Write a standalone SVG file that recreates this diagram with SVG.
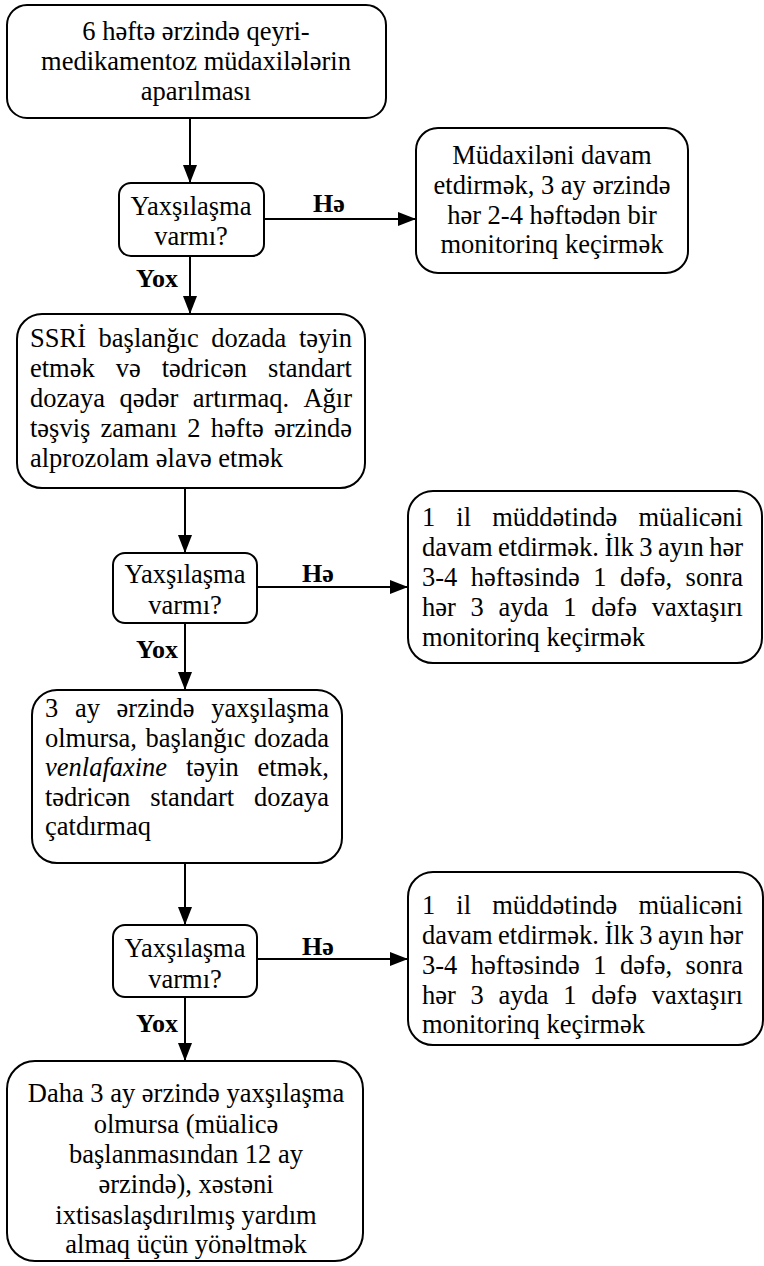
<svg xmlns="http://www.w3.org/2000/svg" width="764" height="1266" viewBox="0 0 764 1266">
<style>
.box{fill:#fff;stroke:#000;stroke-width:2}
.t{font-family:"Liberation Serif","Times New Roman",serif;font-size:26.5px;fill:#000}
.c{text-anchor:middle}
.lbl{font-family:"Liberation Serif","Times New Roman",serif;font-size:26px;font-weight:bold;fill:#000}
.edge{stroke:#000;stroke-width:2;fill:none;marker-end:url(#ah)}
</style>
<defs>
<marker id="ah" viewBox="0 0 18 14" refX="18" refY="7" markerWidth="18" markerHeight="14" markerUnits="userSpaceOnUse" orient="auto">
<path d="M0,0 L18,7 L0,14 Z" fill="#000"/>
</marker>
</defs>
<rect width="764" height="1266" fill="#fff"/>

<g id="connectors">
<line class="edge" x1="190" y1="118" x2="190" y2="183"/>
<line class="edge" x1="190" y1="256" x2="190" y2="314"/>
<line class="edge" x1="264" y1="219" x2="416" y2="219"/>
<line class="edge" x1="185" y1="488" x2="185" y2="553"/>
<line class="edge" x1="257" y1="587" x2="408" y2="587"/>
<line class="edge" x1="185" y1="623" x2="185" y2="690"/>
<line class="edge" x1="185" y1="863" x2="185" y2="925"/>
<line class="edge" x1="257" y1="959" x2="408" y2="959"/>
<line class="edge" x1="185" y1="997" x2="185" y2="1061"/>
<text class="lbl" x="313" y="212">Hə</text>
<text class="lbl" x="136" y="287">Yox</text>
<text class="lbl" x="302" y="582">Hə</text>
<text class="lbl" x="136" y="658">Yox</text>
<text class="lbl" x="302" y="955">Hə</text>
<text class="lbl" x="136" y="1032">Yox</text>
</g>

<g id="start">
<rect class="box" x="7" y="5" width="379" height="113" rx="20"/>
<text class="t c" x="196" y="40">6 həftə ərzində qeyri-</text>
<text class="t c" x="196" y="70">medikamentoz müdaxilələrin</text>
<text class="t c" x="196" y="100">aparılması</text>
</g>

<g id="decision1">
<rect class="box" x="119" y="183" width="145" height="73" rx="12"/>
<text class="t c" x="191" y="215">Yaxşılaşma</text>
<text class="t c" x="191" y="245">varmı?</text>
</g>

<g id="yes1">
<rect class="box" x="416" y="128" width="272" height="145" rx="22"/>
<text class="t c" x="552" y="164">Müdaxiləni davam</text>
<text class="t c" x="552" y="194">etdirmək, 3 ay ərzində</text>
<text class="t c" x="552" y="224">hər 2-4 həftədən bir</text>
<text class="t c" x="552" y="253">monitorinq keçirmək</text>
</g>

<g id="ssri">
<rect class="box" x="17" y="314" width="348" height="174" rx="25"/>
<text class="t" y="347"><tspan x="30">SSRİ</tspan><tspan x="98.6">başlanğıc</tspan><tspan x="211.3">dozada</tspan><tspan x="299">təyin</tspan></text>
<text class="t" y="377"><tspan x="30">etmək</tspan><tspan x="115.75">və</tspan><tspan x="161.75">tədricən</tspan><tspan x="268.1">standart</tspan></text>
<text class="t" y="407"><tspan x="30">dozaya</tspan><tspan x="119.42">qədər</tspan><tspan x="192.65">artırmaq.</tspan><tspan x="303.43">Ağır</tspan></text>
<text class="t" y="437"><tspan x="30">təşviş</tspan><tspan x="100.59">zamanı</tspan><tspan x="187.34">2</tspan><tspan x="210.81">həftə</tspan><tspan x="274">ərzində</tspan></text>
<text class="t" x="30" y="467">alprozolam əlavə etmək</text>
</g>

<g id="decision2">
<rect class="box" x="113" y="553" width="144" height="70" rx="12"/>
<text class="t c" x="185" y="583">Yaxşılaşma</text>
<text class="t c" x="185" y="614">varmı?</text>
</g>

<g id="yes2">
<rect class="box" x="408" y="491" width="354" height="172" rx="25"/>
<text class="t" y="526"><tspan x="422">1</tspan><tspan x="456.37">il</tspan><tspan x="492.22">müddətində</tspan><tspan x="638.47">müalicəni</tspan></text>
<text class="t" y="556"><tspan x="422">davam</tspan><tspan x="498.12">etdirmək.</tspan><tspan x="604.42">İlk</tspan><tspan x="639.33">3</tspan><tspan x="658.05">ayın</tspan><tspan x="709.15">hər</tspan></text>
<text class="t" y="586"><tspan x="422">3-4</tspan><tspan x="470.79">həftəsində</tspan><tspan x="593.18">1</tspan><tspan x="619.9">dəfə,</tspan><tspan x="685.6">sonra</tspan></text>
<text class="t" y="616"><tspan x="422">hər</tspan><tspan x="470.59">3</tspan><tspan x="498.59">ayda</tspan><tspan x="563.37">1</tspan><tspan x="591.37">dəfə</tspan><tspan x="651.73">vaxtaşırı</tspan></text>
<text class="t" x="422" y="646">monitorinq keçirmək</text>
</g>

<g id="venlafaxine">
<rect class="box" x="32" y="690" width="310" height="173" rx="25"/>
<text class="t" y="717"><tspan x="45">3</tspan><tspan x="74.91">ay</tspan><tspan x="116.59">ərzində</tspan><tspan x="211.24">yaxşılaşma</tspan></text>
<text class="t" y="746.5"><tspan x="45">olmursa,</tspan><tspan x="145.44">başlanğıc</tspan><tspan x="253.96">dozada</tspan></text>
<text class="t" y="776"><tspan x="45" font-style="italic">venlafaxine</tspan><tspan x="185.89">təyin</tspan><tspan x="257.61">etmək,</tspan></text>
<text class="t" y="805.5"><tspan x="45">tədricən</tspan><tspan x="150.21">standart</tspan><tspan x="253.96">dozaya</tspan></text>
<text class="t" x="45" y="835">çatdırmaq</text>
</g>

<g id="decision3">
<rect class="box" x="113" y="925" width="144" height="72" rx="12"/>
<text class="t c" x="185" y="957">Yaxşılaşma</text>
<text class="t c" x="185" y="988">varmı?</text>
</g>

<g id="yes3">
<rect class="box" x="408" y="872" width="355" height="173" rx="25"/>
<text class="t" y="914"><tspan x="422">1</tspan><tspan x="456.37">il</tspan><tspan x="492.22">müddətində</tspan><tspan x="638.47">müalicəni</tspan></text>
<text class="t" y="944"><tspan x="422">davam</tspan><tspan x="498.12">etdirmək.</tspan><tspan x="604.42">İlk</tspan><tspan x="639.33">3</tspan><tspan x="658.05">ayın</tspan><tspan x="709.15">hər</tspan></text>
<text class="t" y="974"><tspan x="422">3-4</tspan><tspan x="470.79">həftəsində</tspan><tspan x="593.18">1</tspan><tspan x="619.9">dəfə,</tspan><tspan x="685.6">sonra</tspan></text>
<text class="t" y="1004"><tspan x="422">hər</tspan><tspan x="470.59">3</tspan><tspan x="498.59">ayda</tspan><tspan x="563.37">1</tspan><tspan x="591.37">dəfə</tspan><tspan x="651.73">vaxtaşırı</tspan></text>
<text class="t" x="422" y="1033">monitorinq keçirmək</text>
</g>

<g id="referral">
<rect class="box" x="7" y="1061" width="356" height="200" rx="28"/>
<text class="t c" x="186" y="1102">Daha 3 ay ərzində yaxşılaşma</text>
<text class="t c" x="186" y="1133">olmursa (müalicə</text>
<text class="t c" x="186" y="1163">başlanmasından 12 ay</text>
<text class="t c" x="186" y="1193">ərzində), xəstəni</text>
<text class="t c" x="186" y="1224">ixtisaslaşdırılmış yardım</text>
<text class="t c" x="186" y="1253">almaq üçün yönəltmək</text>
</g>
</svg>
